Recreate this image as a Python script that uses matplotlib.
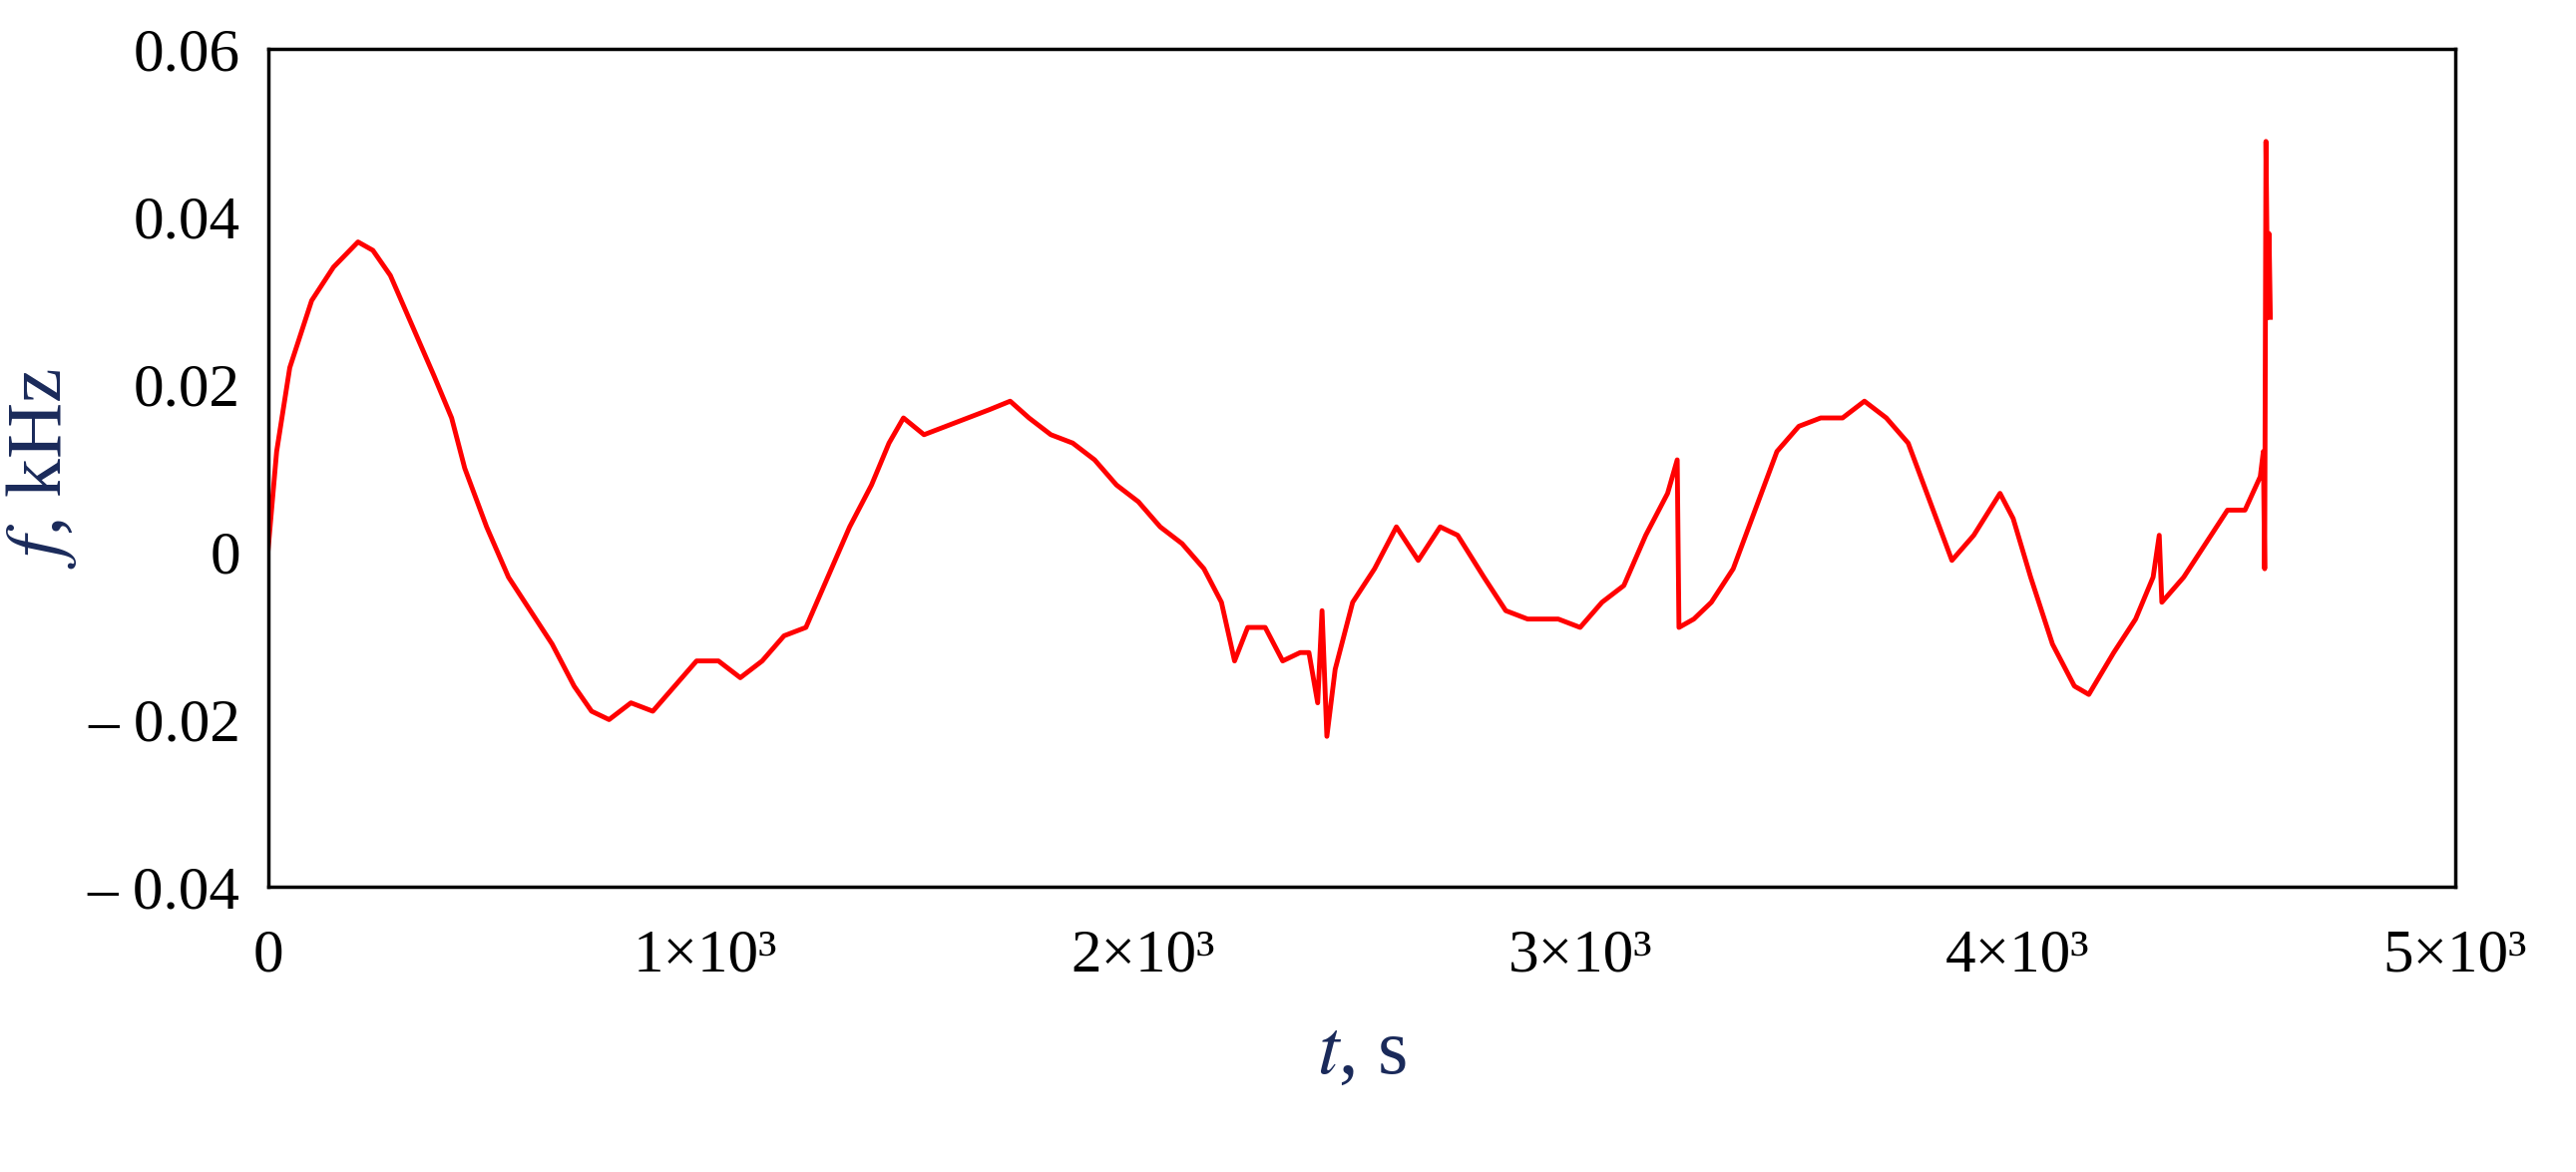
import matplotlib
matplotlib.use("Agg")
import matplotlib.pyplot as plt

# time (s) and frequency deviation (kHz)
t = [0, 20, 50, 100, 150, 206, 240, 280, 330, 380, 420, 450, 500, 550, 600, 650, 700,
     740, 780, 830, 880, 930, 980, 1030, 1080, 1130, 1180, 1230, 1280, 1330, 1380, 1420,
     1453, 1500, 1550, 1600, 1650, 1697, 1740, 1790, 1840, 1890, 1940, 1990, 2040, 2090,
     2140, 2180, 2210, 2240, 2280, 2320, 2360, 2380, 2400, 2410, 2421, 2440, 2480, 2530,
     2580, 2630, 2680, 2720, 2780, 2830, 2880, 2950, 3000, 3050, 3100, 3150, 3200, 3222,
     3226, 3260, 3300, 3350, 3400, 3450, 3500, 3550, 3600, 3650, 3700, 3750, 3800, 3850,
     3900, 3960, 3990, 4030, 4080, 4130, 4163, 4220, 4270, 4310, 4324, 4330, 4380, 4430,
     4480, 4520, 4555, 4562, 4565, 4568, 4572, 4575, 4578]
f = [0.0, 0.012, 0.022, 0.030, 0.034, 0.037, 0.036, 0.033, 0.027, 0.021, 0.016, 0.010,
     0.003, -0.003, -0.007, -0.011, -0.016, -0.019, -0.020, -0.018, -0.019, -0.016,
     -0.013, -0.013, -0.015, -0.013, -0.010, -0.009, -0.003, 0.003, 0.008, 0.013,
     0.016, 0.014, 0.015, 0.016, 0.017, 0.018, 0.016, 0.014, 0.013, 0.011, 0.008, 0.006,
     0.003, 0.001, -0.002, -0.006, -0.013, -0.009, -0.009, -0.013, -0.012, -0.012,
     -0.018, -0.007, -0.022, -0.014, -0.006, -0.002, 0.003, -0.001, 0.003, 0.002,
     -0.003, -0.007, -0.008, -0.008, -0.009, -0.006, -0.004, 0.002, 0.007, 0.011,
     -0.009, -0.008, -0.006, -0.002, 0.005, 0.012, 0.015, 0.016, 0.016, 0.018, 0.016,
     0.013, 0.006, -0.001, 0.002, 0.007, 0.004, -0.003, -0.011, -0.016, -0.017, -0.012,
     -0.008, -0.003, 0.002, -0.006, -0.003, 0.001, 0.005, 0.005, 0.009, 0.012, -0.002,
     0.049, 0.028, 0.038, 0.028]

x_ticks = [0, 1000, 2000, 3000, 4000, 5000]
x_labels = ["0", "1×10³", "2×10³", "3×10³", "4×10³", "5×10³"]
y_ticks = [-0.04, -0.02, 0, 0.02, 0.04, 0.06]
y_labels = ["– 0.04", "– 0.02", "0", "0.02", "0.04", "0.06"]

plt.rcParams["font.family"] = ["Liberation Serif", "DejaVu Serif"]
fig = plt.figure(figsize=(25.82, 11.75), dpi=100)
ax = fig.add_axes([0.104, 0.243, 0.849, 0.715])
ax.plot(t, f, color="red", lw=3.5)
ax.set_xlim(0, 5000)
ax.set_ylim(-0.04, 0.06)
ax.set_xticks(x_ticks, x_labels, fontsize=44)
ax.set_yticks(y_ticks, y_labels, fontsize=44)
ax.tick_params(axis="y", length=0, pad=20)
ax.tick_params(axis="x", length=0, pad=30)
for s in ax.spines.values():
    s.set_linewidth(2.5)
ax.set_xlabel("$t$, s", fontsize=56, color="#1a2a5a", labelpad=25,
              math_fontfamily="stix")
ax.set_ylabel("$f$, kHz", fontsize=56, color="#1a2a5a", labelpad=6,
              math_fontfamily="stix")
fig.savefig("out.png")
